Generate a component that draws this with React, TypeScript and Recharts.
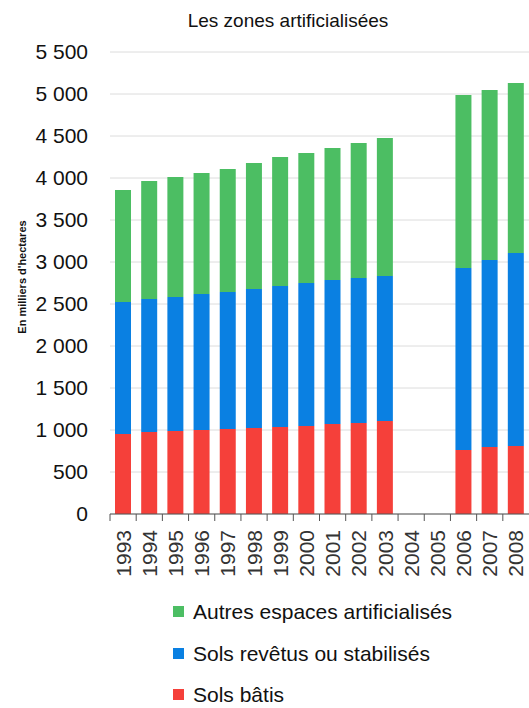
import type { ReactElement } from "react";
import { Bar, BarChart, CartesianGrid, Legend, XAxis, YAxis } from "recharts";

const YEARS = [
  "1993", "1994", "1995", "1996", "1997", "1998", "1999", "2000",
  "2001", "2002", "2003", "2004", "2005", "2006", "2007", "2008",
];

// En milliers d'hectares
const SOLS_BATIS = [952, 976, 988, 1000, 1012, 1024, 1036, 1048, 1071, 1083, 1107, null, null, 762, 798, 810];
const SOLS_REVETUS = [1572, 1584, 1595, 1619, 1631, 1655, 1678, 1702, 1715, 1727, 1726, null, null, 2167, 2226, 2297];
const AUTRES_ESPACES = [1333, 1404, 1429, 1441, 1464, 1500, 1536, 1548, 1571, 1607, 1643, null, null, 2059, 2024, 2024];

const Y_TICKS = [0, 500, 1000, 1500, 2000, 2500, 3000, 3500, 4000, 4500, 5000, 5500];

const SERIES = [
  { key: "autres", label: "Autres espaces artificialisés", color: "#4cbe63" },
  { key: "revetus", label: "Sols revêtus ou stabilisés", color: "#0a80e2" },
  { key: "batis", label: "Sols bâtis", color: "#f5403a" },
];

const FONT = '"Liberation Sans", Arial, sans-serif';
const WIDTH = 529;
const HEIGHT = 708;
const Y_AXIS_WIDTH = 110;
const BAND = (WIDTH - Y_AXIS_WIDTH) / YEARS.length;

const data = YEARS.map((year, i) => ({
  year,
  batis: SOLS_BATIS[i],
  revetus: SOLS_REVETUS[i],
  autres: AUTRES_ESPACES[i],
}));

function formatThousands(value: number): string {
  return String(value).replace(/\B(?=(\d{3})+(?!\d))/g, " ");
}

function YearTick({ x, y, payload }: any): ReactElement {
  const half = BAND / 2;
  return (
    <g transform={`translate(${x},${y})`}>
      <line x1={-half} x2={-half} y1={0} y2={7} stroke="#555" />
      <text
        transform="rotate(-90)"
        x={-16}
        y={0}
        dy="0.36em"
        textAnchor="end"
        fill="#333"
        fontSize={21}
        fontFamily={FONT}
      >
        {payload.value}
      </text>
    </g>
  );
}

function LegendContent(): ReactElement {
  return (
    <div style={{ height: 117, paddingLeft: 173, fontFamily: FONT }}>
      {SERIES.map((s) => (
        <div
          key={s.key}
          style={{
            display: "flex",
            alignItems: "center",
            height: 41.5,
            fontSize: 21,
            lineHeight: 1,
            color: "#111",
          }}
        >
          <span style={{ width: 11, height: 11, background: s.color, marginRight: 9 }} />
          {s.label}
        </div>
      ))}
    </div>
  );
}

export default function App(): ReactElement {
  return (
    <div style={{ width: WIDTH, height: HEIGHT, fontFamily: FONT }}>
      <style>{"body{margin:0}"}</style>
      <BarChart
        width={WIDTH}
        height={HEIGHT}
        data={data}
        margin={{ top: 52, right: 0, bottom: 0, left: 0 }}
        barSize={16}
      >
        <text x={288} y={27} textAnchor="middle" fontSize={19} fill="#111" fontFamily={FONT}>
          Les zones artificialisées
        </text>
        <text
          transform="translate(26,277) rotate(-90)"
          textAnchor="middle"
          fontSize={11}
          fontWeight="bold"
          fill="#111"
          fontFamily={FONT}
        >
          En milliers d'hectares
        </text>
        <CartesianGrid vertical={false} stroke="#dcdcdc" />
        <XAxis
          dataKey="year"
          interval={0}
          height={77}
          tickLine={false}
          tickSize={0}
          tickMargin={0}
          axisLine={{ stroke: "#555" }}
          tick={<YearTick />}
        />
        <YAxis
          width={Y_AXIS_WIDTH}
          domain={[0, 5500]}
          ticks={Y_TICKS}
          axisLine={false}
          tickLine={false}
          tickMargin={16}
          tick={{ fontSize: 21, fill: "#111", fontFamily: FONT }}
          tickFormatter={formatThousands}
        />
        <Legend
          verticalAlign="bottom"
          content={<LegendContent />}
          wrapperStyle={{ left: 0, width: WIDTH }}
        />
        <Bar dataKey="batis" name="Sols bâtis" stackId="a" fill="#f5403a" isAnimationActive={false} />
        <Bar dataKey="revetus" name="Sols revêtus ou stabilisés" stackId="a" fill="#0a80e2" isAnimationActive={false} />
        <Bar dataKey="autres" name="Autres espaces artificialisés" stackId="a" fill="#4cbe63" isAnimationActive={false} />
      </BarChart>
    </div>
  );
}
